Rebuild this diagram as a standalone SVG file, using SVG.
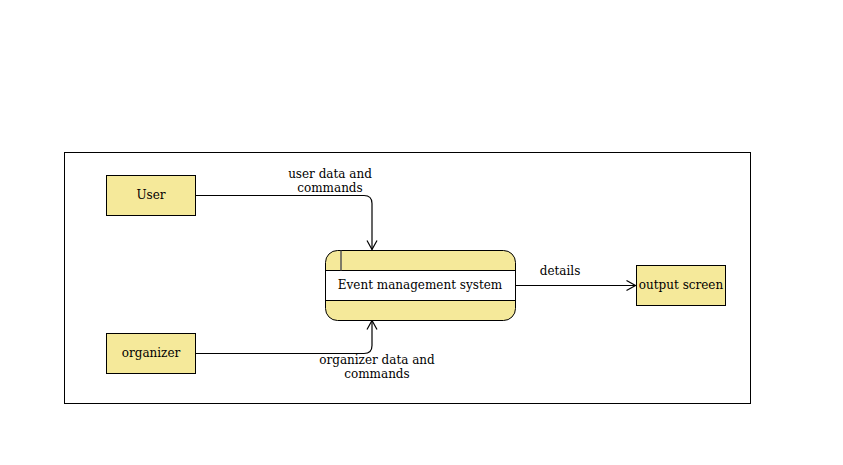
<svg xmlns="http://www.w3.org/2000/svg" width="843" height="465" viewBox="0 0 843 465">
<defs>
<style>
.box{fill:#f5e99a;stroke:#000;stroke-width:1}
.t{font-family:"DejaVu Serif",serif;font-size:12px;fill:#000;text-anchor:middle}
.e{fill:none;stroke:#000;stroke-width:1.2}
</style>
<marker id="arr" markerWidth="12" markerHeight="12" refX="10" refY="6" orient="auto" markerUnits="userSpaceOnUse">
<path d="M1,1 L10,6 L1,11" fill="none" stroke="#000" stroke-width="1.2"/>
</marker>
</defs>
<rect x="0" y="0" width="843" height="465" fill="#fff"/>
<rect x="64.5" y="152.5" width="686" height="251" fill="none" stroke="#000" stroke-width="1"/>
<g id="connectors">
<path class="e" d="M196,195.5 H364 Q372,195.5 372,203.5 V249.5" marker-end="url(#arr)"/>
<path class="e" d="M196,353.5 H364 Q372,353.5 372,345.5 V320.5" marker-end="url(#arr)"/>
<path class="e" d="M516,285.5 H635.5" marker-end="url(#arr)"/>
<text class="t" x="330" y="178">user data and</text>
<text class="t" x="330" y="192">commands</text>
<text class="t" x="560" y="275">details</text>
<text class="t" x="377" y="364">organizer data and</text>
<text class="t" x="377" y="378">commands</text>
</g>
<g id="user">
<rect class="box" x="106.5" y="175.5" width="89" height="40"/>
<text class="t" x="151" y="199">User</text>
</g>
<g id="organizer">
<rect class="box" x="106.5" y="333.5" width="89" height="40"/>
<text class="t" x="151" y="357">organizer</text>
</g>
<g id="output">
<rect class="box" x="636.5" y="265.5" width="89" height="40"/>
<text class="t" x="681" y="289">output screen</text>
</g>
<g id="process">
<rect class="box" x="325.5" y="250.5" width="190" height="70" rx="12"/>
<rect x="326" y="270.5" width="189" height="30" fill="#fff"/>
<line x1="325.5" y1="270.5" x2="515.5" y2="270.5" stroke="#000"/>
<line x1="325.5" y1="300.5" x2="515.5" y2="300.5" stroke="#000"/>
<line x1="341" y1="250.5" x2="341" y2="270.5" stroke="#555" stroke-width="1.5"/>
<text class="t" x="420" y="289">Event management system</text>
</g>
</svg>
